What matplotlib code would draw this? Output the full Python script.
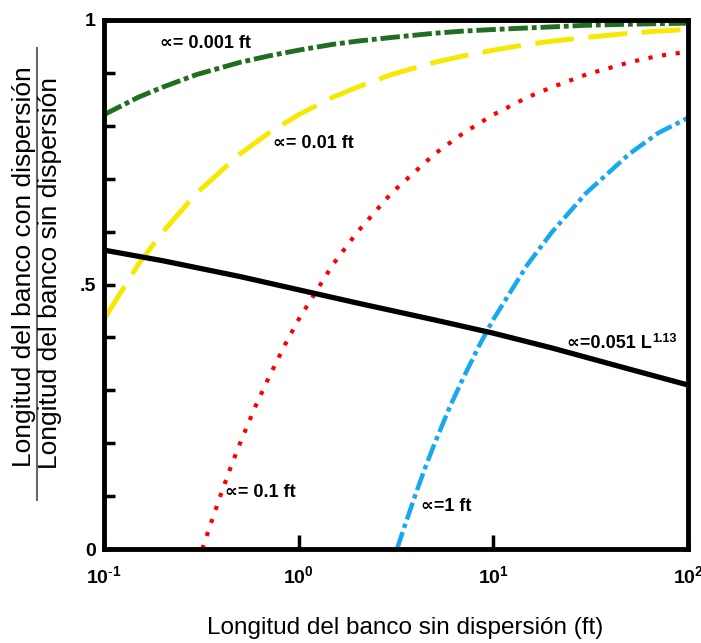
import matplotlib
matplotlib.use("Agg")
import matplotlib.pyplot as plt
from matplotlib.lines import Line2D
from matplotlib.ticker import FixedLocator, NullLocator
from matplotlib.transforms import offset_copy

plt.rcParams['font.family'] = ['Liberation Sans', 'DejaVu Sans']
plt.rcParams['mathtext.fontset'] = 'custom'
plt.rcParams['mathtext.rm'] = 'Liberation Sans'
plt.rcParams['mathtext.it'] = 'Liberation Sans'
plt.rcParams['mathtext.bf'] = 'Liberation Sans:bold'

# ---- data ----
L_full = [0.1, 0.15, 0.2, 0.3, 0.5, 0.7, 1, 1.5, 2, 3, 5, 7, 10, 15, 20, 30, 50, 70, 100]
ratio_a0001 = [0.821, 0.854, 0.873, 0.897, 0.920, 0.932, 0.943, 0.954, 0.960, 0.967,
               0.975, 0.979, 0.982, 0.985, 0.987, 0.990, 0.992, 0.993, 0.994]
ratio_a001 = [0.434, 0.538, 0.599, 0.673, 0.747, 0.786, 0.821, 0.854, 0.873, 0.897,
              0.920, 0.932, 0.943, 0.954, 0.960, 0.967, 0.975, 0.979, 0.982]

L_a01 = [0.32, 0.35, 0.4, 0.45, 0.5, 0.6, 0.7, 0.85, 1, 1.5, 2, 3, 5, 7, 10, 15, 20, 30, 50, 70, 100]
ratio_a01 = [0.0, 0.043, 0.105, 0.157, 0.2, 0.27, 0.323, 0.386, 0.434, 0.538, 0.599, 0.673,
             0.747, 0.786, 0.821, 0.854, 0.873, 0.897, 0.92, 0.932, 0.94]

L_a1 = [3.2, 3.5, 4, 4.5, 5, 6, 7, 8.5, 10, 15, 20, 30, 50, 70, 100]
ratio_a1 = [0.0, 0.043, 0.105, 0.157, 0.2, 0.27, 0.323, 0.386, 0.434, 0.538, 0.599, 0.673,
            0.747, 0.786, 0.815]

L_fit = [0.1, 0.2, 0.5, 1, 2, 5, 10, 20, 50, 100]
ratio_fit = [0.565, 0.545, 0.515, 0.49, 0.465, 0.433, 0.408, 0.38, 0.34, 0.31]

x_ticks = [0.1, 1, 10, 100]
x_ticklabels = [r'$\mathbf{10^{\text{-}1}}$', r'$\mathbf{10^{0}}$',
                r'$\mathbf{10^{1}}$', r'$\mathbf{10^{2}}$']
y_ticks = [0.0, 0.1, 0.2, 0.3, 0.4, 0.5, 0.6, 0.7, 0.8, 0.9, 1.0]
y_ticklabels = ['0', '', '', '', '', '.5', '', '', '', '', '1']

# ---- figure ----
fig = plt.figure(figsize=(7.01, 6.43), dpi=100)
ax = fig.add_axes([104 / 701, 1 - 549 / 643, 584 / 701, 529 / 643])
ax.set_xscale('log')
ax.set_xlim(0.1, 100)
ax.set_ylim(0, 1)

ax.plot(L_full, ratio_a0001, color='#1f6f1f', lw=3.5, linestyle=(0, (4, 0.8, 1, 0.8)))
ax.plot(L_full, ratio_a001, color='#f7e800', lw=3.5, linestyle=(0, (8, 3)))
ax.plot(L_a01, ratio_a01, color='#ff0000', lw=3.0, linestyle=(0, (1, 2.3)))
ax.plot(L_a1, ratio_a1, color='#18a8f0', lw=3.2, linestyle=(0, (4, 1, 1, 1)))
ax.plot(L_fit, ratio_fit, color='black', lw=3.8, solid_capstyle='butt')

for s in ax.spines.values():
    s.set_linewidth(3.5)
    s.set_color('black')

ax.xaxis.set_major_locator(FixedLocator(x_ticks))
ax.xaxis.set_minor_locator(NullLocator())
ax.set_xticklabels(x_ticklabels)
ax.yaxis.set_major_locator(FixedLocator(y_ticks))
ax.set_yticklabels(y_ticklabels, fontweight='bold')
ax.tick_params(axis='x', direction='in', length=10, width=2.5, pad=12, labelsize=14)
ax.tick_params(axis='y', direction='in', length=8, width=2.5, pad=6, labelsize=14)

# annotations
akw = dict(fontsize=13, fontweight='bold', va='center', ha='left',
           family=['Liberation Sans', 'DejaVu Sans'])
ax.text(0.194, 0.955, '\u221d= 0.001 ft', **akw)
ax.text(0.74, 0.767, '\u221d= 0.01 ft', **akw)
ax.text(0.418, 0.106, '\u221d= 0.1 ft', **akw)
ax.text(4.25, 0.081, '\u221d=1 ft', **akw)
t_fit = ax.text(23.9, 0.389, '\u221d=0.051 L', **akw)
fig.canvas.draw()
bb = t_fit.get_window_extent()
ax.text(bb.x1 + 1, bb.y1 + 2, '1.13', transform=None, fontsize=9, fontweight='bold',
        ha='left', va='top')

# x label
fig.text(405 / 701, 1 - 628 / 643, 'Longitud del banco sin dispersión (ft)',
         ha='center', va='center', fontsize=17.5)

# y label as a fraction
fig.text(24 / 701, 1 - 267 / 643, 'Longitud del banco con dispersión',
         rotation=90, ha='center', va='center', fontsize=19)
fig.text(50 / 701, 1 - 273 / 643, 'Longitud del banco sin dispersión',
         rotation=90, ha='center', va='center', fontsize=19)
fig.add_artist(Line2D([37 / 701, 37 / 701], [1 - 500 / 643, 1 - 48 / 643],
                      transform=fig.transFigure, color='#666666', lw=1.5))

fig.savefig('out.png', dpi=100)
